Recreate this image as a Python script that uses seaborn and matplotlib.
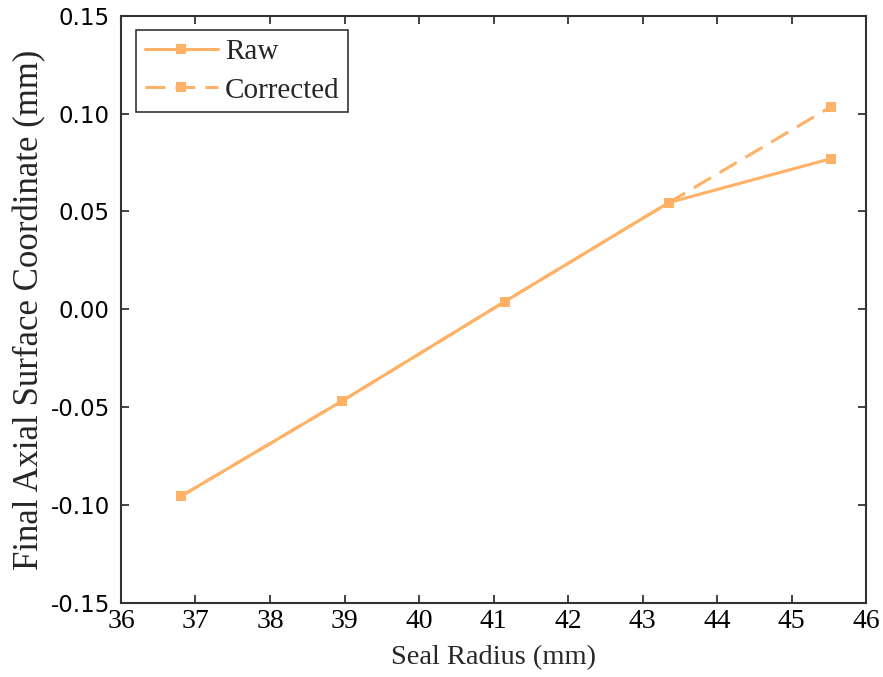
import pandas as pd, numpy as np
import matplotlib
matplotlib.use('Agg')
import matplotlib.pyplot as plt
import seaborn as sns

sns.set_style('ticks')
plt.rcParams['font.family'] = ['Liberation Serif', 'DejaVu Serif']

# Datos
radio = [36.8, 38.97, 41.15, 43.35, 45.53]
raw = [-0.0955, -0.0467, 0.0040, 0.0545, 0.0770]
corrected = [-0.0955, -0.0467, 0.0040, 0.0545, 0.1035]
color = '#FFB266'

df = pd.DataFrame({'radio': radio * 2,
                   'valor': raw + corrected,
                   'serie': ['Raw'] * len(raw) + ['Corrected'] * len(corrected)})

fig = plt.figure(figsize=(8.83, 6.77), dpi=100)
ax = fig.add_axes([0.137, 0.109, 0.844, 0.868])

sns.lineplot(data=df, x='radio', y='valor', style='serie', markers={'Raw': 's', 'Corrected': 's'},
             dashes={'Raw': '', 'Corrected': (6.5, 3.3)}, color=color, lw=2.2,
             markersize=7, markeredgewidth=0, ax=ax, legend=True)

ax.set_xlim(36, 46); ax.set_ylim(-0.15, 0.15)
ax.set_xticks(np.arange(36, 47, 1))
ax.set_yticks(np.arange(-0.15, 0.151, 0.05))
ax.set_yticklabels([f'{v:.2f}' for v in np.arange(-0.15, 0.151, 0.05)],
                   family='DejaVu Sans', fontsize=16.5)
for lab in ax.get_xticklabels():
    lab.set_fontsize(20)
ax.tick_params(direction='in', length=6, width=1.2, top=True, right=True, colors='#222222')
ax.tick_params(axis='x', pad=4, labelcolor='black')
ax.tick_params(axis='y', pad=8, labelcolor='black')
for s in ax.spines.values():
    s.set_visible(True); s.set_linewidth(1.5); s.set_color('#333333')

ax.set_xlabel('Seal Radius (mm)', fontsize=20.5, labelpad=8)
ax.set_ylabel('Final Axial Surface Coordinate (mm)', fontsize=25, labelpad=3)

leg = ax.legend(loc='upper left', fontsize=21, frameon=True, fancybox=False,
                edgecolor='black', borderpad=0.3, labelspacing=0.4, handlelength=2.5,
                handletextpad=0.25, borderaxespad=0, bbox_to_anchor=(0.02, 0.975))
leg.get_frame().set_linewidth(1.2)

plt.savefig('out.png', dpi=100)
